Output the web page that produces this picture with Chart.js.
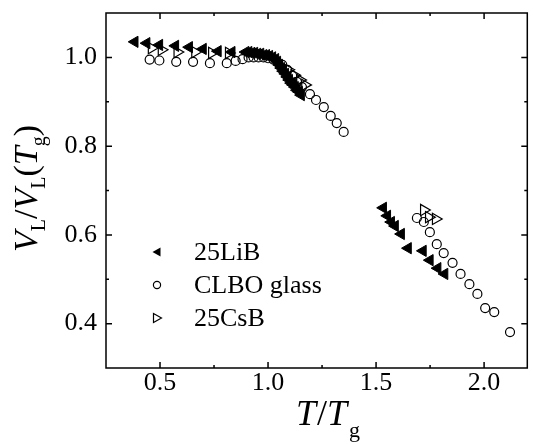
<!DOCTYPE html>
<html>
<head>
<meta charset="utf-8">
<script src="https://cdn.jsdelivr.net/npm/chart.js@4.4.1/dist/chart.umd.min.js"></script>
<style>
  html, body { margin: 0; padding: 0; background: #fff; overflow: hidden; }
  #wrap { width: 535px; height: 444px; }
</style>
</head>
<body>
<div id="wrap"><canvas id="chart"></canvas></div>
<script>
// valeurs (T/Tg, VL/VL(Tg))
const liB_x = [0.383, 0.438, 0.497, 0.571, 0.635, 0.699, 0.768, 0.832,
  0.896, 0.910, 0.924, 0.937, 0.951, 0.965, 0.979, 0.992, 1.006, 1.020, 1.034, 1.043,
  1.052, 1.061, 1.070, 1.080, 1.089, 1.098, 1.107, 1.116, 1.125, 1.134, 1.144, 1.153,
  1.533, 1.552, 1.570, 1.588, 1.616, 1.648, 1.717, 1.749, 1.785, 1.817];
const liB_y = [1.035, 1.032, 1.028, 1.026, 1.023, 1.019, 1.014, 1.012,
  1.012, 1.012, 1.010, 1.010, 1.008, 1.008, 1.005, 1.005, 1.003, 1.000, 0.996, 0.990,
  0.983, 0.976, 0.969, 0.963, 0.956, 0.949, 0.942, 0.938, 0.933, 0.926, 0.922, 0.915,
  0.661, 0.643, 0.629, 0.620, 0.602, 0.570, 0.564, 0.543, 0.525, 0.512];

const clbo_x = [0.452, 0.497, 0.575, 0.653, 0.731, 0.809, 0.850, 0.882,
  0.910, 0.933, 0.956, 0.979, 1.000, 1.025, 1.043, 1.066, 1.089, 1.112, 1.134, 1.157,
  1.194, 1.222, 1.258, 1.290, 1.318, 1.350,
  1.689, 1.721, 1.749, 1.781, 1.813, 1.854, 1.891, 1.932, 1.969, 2.005, 2.047, 2.120];
const clbo_y = [0.995, 0.993, 0.990, 0.990, 0.987, 0.987, 0.992, 0.996,
  1.000, 1.000, 1.000, 1.000, 0.998, 0.995, 0.990, 0.983, 0.972, 0.958, 0.945, 0.933,
  0.917, 0.904, 0.888, 0.868, 0.852, 0.832,
  0.638, 0.629, 0.606, 0.579, 0.559, 0.537, 0.512, 0.489, 0.467, 0.435, 0.426, 0.381];

const csB_x = [0.461, 0.507, 0.580, 0.662, 0.740, 0.818,
  1.093, 1.121, 1.148, 1.171,
  1.721, 1.744, 1.776];
const csB_y = [1.021, 1.017, 1.012, 1.012, 1.010, 1.010,
  0.972, 0.960, 0.949, 0.938,
  0.656, 0.640, 0.636];

const seriesNames = ["25LiB", "CLBO glass", "25CsB"];

const xTicks = [0.5, 1.0, 1.5, 2.0];
const xMinor = [0.75, 1.25, 1.75];
const yTicks = [0.4, 0.6, 0.8, 1.0];
const yMinor = [0.5, 0.7, 0.9];

const toPts = (xs, ys) => xs.map((x, i) => ({ x: x, y: ys[i] }));

const serif = "'Liberation Serif', 'Times New Roman', serif";
Chart.defaults.font.family = serif;

// cadre, graduations internes, légende et titres des axes
const decor = {
  id: "decor",
  afterDraw(chart) {
    const c = chart.ctx;
    const a = chart.chartArea;
    const sx = chart.scales.x, sy = chart.scales.y;
    c.save();
    c.strokeStyle = "#000";
    c.lineWidth = 1.5;
    c.strokeRect(a.left, a.top, a.right - a.left, a.bottom - a.top);
    c.beginPath();
    const tick = (vals, len) => {
      vals.forEach(v => {
        const px = sx.getPixelForValue(v);
        c.moveTo(px, a.bottom); c.lineTo(px, a.bottom - len);
        c.moveTo(px, a.top); c.lineTo(px, a.top + len);
      });
    };
    const tickY = (vals, len) => {
      vals.forEach(v => {
        const py = sy.getPixelForValue(v);
        c.moveTo(a.left, py); c.lineTo(a.left + len, py);
        c.moveTo(a.right, py); c.lineTo(a.right - len, py);
      });
    };
    tick(xTicks, 6); tick(xMinor, 3);
    tickY(yTicks, 6); tickY(yMinor, 3);
    c.stroke();

    // légende
    const lx = a.left + 51, ly0 = a.top + 239, dy = 33;
    const styles = ["lt", "circle", "rt"];
    styles.forEach((st, i) => {
      const y = ly0 + i * dy;
      c.beginPath();
      if (st === "circle") {
        c.lineWidth = 1.2;
        c.arc(lx, y, 3.6, 0, Math.PI * 2);
        c.stroke();
      } else if (st === "lt") {
        c.moveTo(lx - 4.5, y); c.lineTo(lx + 3.5, y - 4.5); c.lineTo(lx + 3.5, y + 4.5);
        c.closePath(); c.fillStyle = "#000"; c.fill();
      } else {
        c.lineWidth = 1.2;
        c.moveTo(lx + 4.5, y); c.lineTo(lx - 3.5, y - 4.5); c.lineTo(lx - 3.5, y + 4.5);
        c.closePath(); c.stroke();
      }
      c.fillStyle = "#000";
      c.font = "26px " + serif;
      c.textBaseline = "middle";
      c.textAlign = "left";
      c.fillText(seriesNames[i], lx + 37, y + 1);
    });

    // titre axe x : T/Tg
    const parts = (list, x0, y0) => {
      let x = x0;
      list.forEach(p => {
        c.font = p[1] + serif;
        c.fillText(p[0], x, y0 + p[2]);
        x += c.measureText(p[0]).width + (p[3] || 0);
      });
    };
    c.textBaseline = "alphabetic";
    c.textAlign = "left";
    parts([["T", "italic 36px ", 0, 1], ["/", "36px ", 0, 0], ["T", "italic 36px ", 0, 2], ["g", "22px ", 12]], 296, 425);

    // titre axe y : VL/VL(Tg)
    c.save();
    c.translate(37, 252);
    c.rotate(-Math.PI / 2);
    parts([["V", "italic 34px ", 0, 0], ["L", "20px ", 8, 0], ["/", "34px ", 0, 0], ["V", "italic 34px ", 0, 0],
      ["L", "20px ", 8, 0], ["(", "34px ", 0, 0], ["T", "italic 34px ", 0, 0], ["g", "20px ", 8, 0], [")", "34px ", 0]], 0, 0);
    c.restore();
    c.restore();
  }
};

new Chart(document.getElementById("chart").getContext("2d"), {
  type: "scatter",
  data: {
    datasets: [
      {
        label: seriesNames[0],
        data: toPts(liB_x, liB_y),
        pointStyle: "triangle",
        rotation: -90,
        radius: 6.5,
        backgroundColor: "#000",
        borderColor: "#000",
        borderWidth: 1,
        order: 1
      },
      {
        label: seriesNames[1],
        data: toPts(clbo_x, clbo_y),
        pointStyle: "circle",
        radius: 4.5,
        backgroundColor: "rgba(0,0,0,0)",
        borderColor: "#000",
        borderWidth: 1.2,
        order: 3
      },
      {
        label: seriesNames[2],
        data: toPts(csB_x, csB_y),
        pointStyle: "triangle",
        rotation: 90,
        radius: 6.5,
        backgroundColor: "rgba(0,0,0,0)",
        borderColor: "#000",
        borderWidth: 1.2,
        order: 2
      }
    ]
  },
  options: {
    responsive: true,
    maintainAspectRatio: false,
    animation: false,
    layout: { padding: { top: 13, right: 0, left: 0, bottom: 0 } },
    plugins: { legend: { display: false }, tooltip: { enabled: false } },
    scales: {
      x: {
        type: "linear",
        min: 0.25,
        max: 2.2,
        afterBuildTicks: s => { s.ticks = xTicks.map(v => ({ value: v })); },
        afterFit: s => { s.height = 76; s.paddingLeft = 0; s.paddingRight = 0; },
        grid: { display: false, drawTicks: false },
        border: { display: false },
        ticks: {
          color: "#000",
          padding: 0,
          maxRotation: 0,
          font: { family: serif, size: 26 },
          callback: v => v.toFixed(1)
        }
      },
      y: {
        type: "linear",
        min: 0.3,
        max: 1.1,
        afterBuildTicks: s => { s.ticks = yTicks.map(v => ({ value: v })); },
        afterFit: s => { s.width = 106; s.paddingTop = 0; s.paddingBottom = 0; },
        grid: { display: false, drawTicks: false },
        border: { display: false },
        ticks: {
          color: "#000",
          padding: 9,
          font: { family: serif, size: 26 },
          callback: v => v.toFixed(1)
        }
      }
    }
  },
  plugins: [decor]
});
</script>
</body>
</html>
